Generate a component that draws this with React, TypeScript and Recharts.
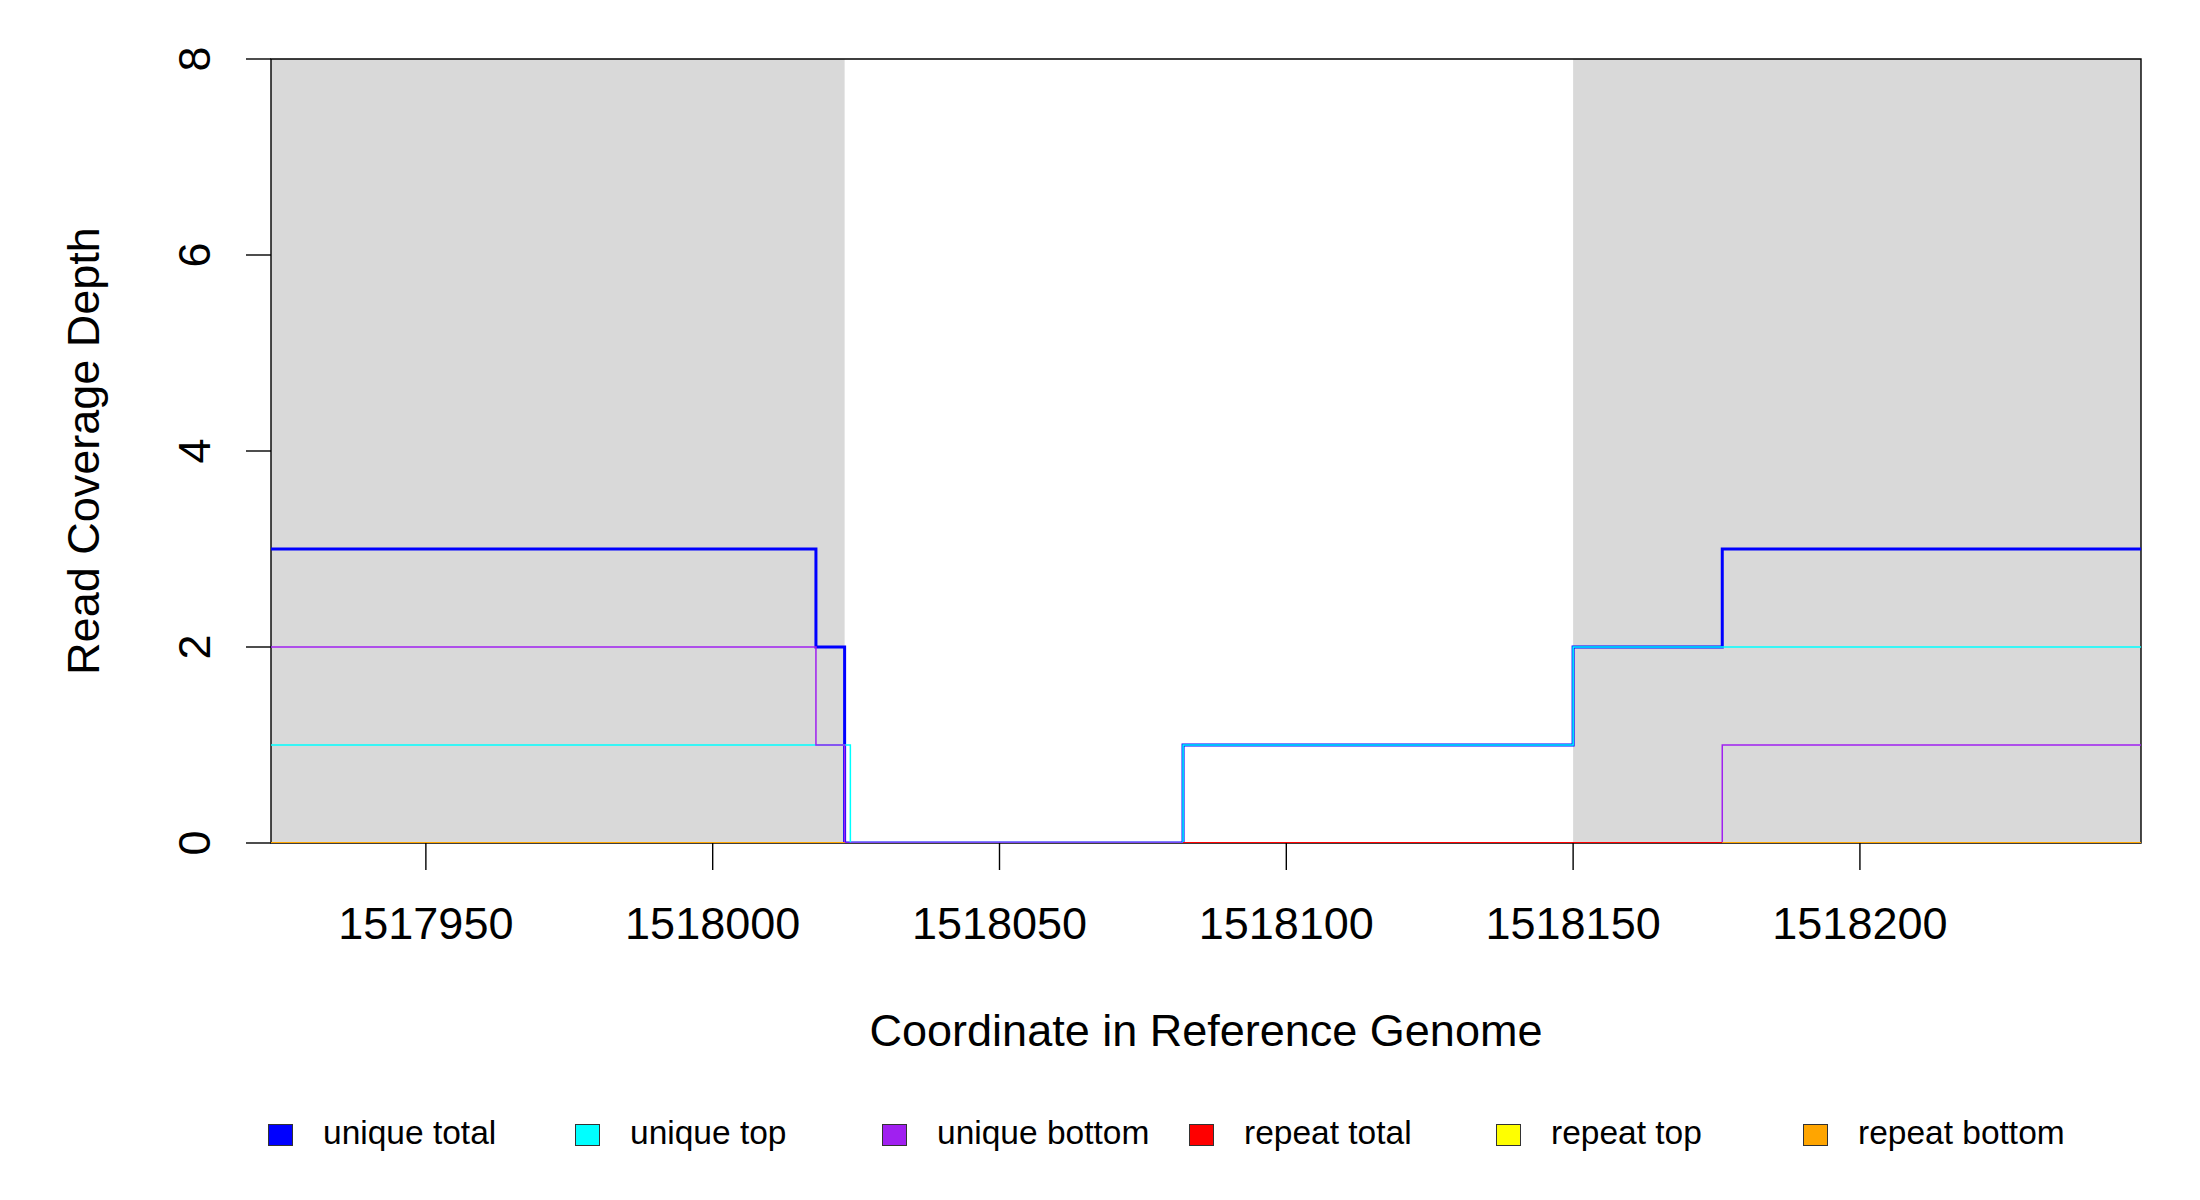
import React from 'react'
import {
  ComposedChart,
  Line,
  XAxis,
  YAxis,
  ReferenceArea,
  Legend,
} from 'recharts'

// genome positions where the coverage changes, and the depth from there on
const uniqueTotalPos = [1517923, 1518018, 1518023, 1518082, 1518150, 1518176, 1518249]
const uniqueTotalDepth = [3, 2, 0, 1, 2, 3, 3]

const uniqueTopPos = [1517923, 1518024, 1518082, 1518150, 1518249]
const uniqueTopDepth = [1, 0, 1, 2, 2]

const uniqueBottomPos = [1517923, 1518018, 1518023, 1518176, 1518249]
const uniqueBottomDepth = [2, 1, 0, 1, 1]

const repeatTotalPos = [1518082, 1518176]
const repeatTotalDepth = [0, 0]

const repeatTopPos = [1517923, 1518249]
const repeatTopDepth = [0, 0]

const repeatBottomPos = [1517923, 1518023, 1518100, 1518176, 1518249]
const repeatBottomDepth = [0, 0, null, 0, 0]

// grey boxes = flanking regions
const shadedRegions = [
  [1517923, 1518023],
  [1518150, 1518249],
]

const xDomain = [1517923, 1518249]
const xTicks = [1517950, 1518000, 1518050, 1518100, 1518150, 1518200]
const yDomain = [0, 8]
const yTicks = [0, 2, 4, 6, 8]

const legendNames = ['unique total', 'unique top', 'unique bottom', 'repeat total', 'repeat top', 'repeat bottom']
const legendColors = ['#0000FF', '#00FFFF', '#A020F0', '#FF0000', '#FFFF00', '#FFA500']

const toSeries = (pos: number[], depth: (number | null)[]) =>
  pos.map((x, i) => ({ x, depth: depth[i] }))

const FONT = '"Liberation Sans", Arial, Helvetica, sans-serif'

const XTick = ({ x, y, payload }: any) => (
  <text x={x} y={y + 67} textAnchor="middle" fontSize={45} fill="#000" fontFamily={FONT}>
    {payload.value}
  </text>
)

const YTick = ({ x, y, payload }: any) => (
  <text
    x={x - 34}
    y={y}
    transform={`rotate(-90, ${x - 34}, ${y})`}
    textAnchor="middle"
    fontSize={45}
    fill="#000"
    fontFamily={FONT}
  >
    {payload.value}
  </text>
)

const XTitle = ({ viewBox }: any) => {
  const cx = viewBox.x + viewBox.width / 2
  return (
    <text x={cx} y={viewBox.y + 203} textAnchor="middle" fontSize={45} fill="#000" fontFamily={FONT}>
      Coordinate in Reference Genome
    </text>
  )
}

const YTitle = ({ viewBox }: any) => {
  const cy = viewBox.y + viewBox.height / 2
  const tx = viewBox.x + 99
  return (
    <text
      x={tx}
      y={cy}
      transform={`rotate(-90, ${tx}, ${cy})`}
      textAnchor="middle"
      fontSize={45}
      fill="#000"
      fontFamily={FONT}
    >
      Read Coverage Depth
    </text>
  )
}

const CoverageLegend = () => (
  <div style={{ display: 'flex', height: 60, alignItems: 'center', paddingLeft: 268, fontFamily: FONT }}>
    {legendNames.map((name, i) => (
      <div key={name} style={{ width: 307, display: 'flex', alignItems: 'center' }}>
        <div
          style={{
            width: 23,
            height: 20,
            background: legendColors[i],
            border: '1.5px solid #333',
            marginTop: 4,
          }}
        />
        <span style={{ marginLeft: 30, fontSize: 33.5, color: '#000' }}>{name}</span>
      </div>
    ))}
  </div>
)

export default function App() {
  return (
    <div style={{ position: 'absolute', left: 0, top: 0, background: '#fff' }}>
      <ComposedChart
        width={2200}
        height={1200}
        margin={{ top: 59, right: 59, bottom: 37, left: 0 }}
      >
        <XAxis
          dataKey="x"
          type="number"
          domain={xDomain}
          ticks={xTicks}
          allowDataOverflow
          axisLine={false}
          tickSize={27}
          tickLine={{ stroke: '#000', strokeWidth: 1.4 }}
          tick={<XTick />}
          height={260}
          label={<XTitle />}
        />
        <YAxis
          type="number"
          domain={yDomain}
          ticks={yTicks}
          allowDataOverflow
          axisLine={false}
          tickSize={25}
          tickLine={{ stroke: '#000', strokeWidth: 1.4 }}
          tick={<YTick />}
          width={271}
          label={<YTitle />}
        />

        {shadedRegions.map(([a, b]) => (
          <ReferenceArea key={a} x1={a} x2={b} y1={yDomain[0]} y2={yDomain[1]} fill="#D9D9D9" fillOpacity={1} stroke="none" />
        ))}
        <ReferenceArea
          x1={xDomain[0]}
          x2={xDomain[1]}
          y1={yDomain[0]}
          y2={yDomain[1]}
          fill="none"
          stroke="#000"
          strokeWidth={1.4}
        />

        <Legend verticalAlign="bottom" content={<CoverageLegend />} />

        <Line data={toSeries(repeatTopPos, repeatTopDepth)} dataKey="depth" name="repeat top" type="stepAfter" stroke="#FFFF00" strokeWidth={2} dot={false} activeDot={false} isAnimationActive={false} />
        <Line data={toSeries(uniqueTotalPos, uniqueTotalDepth)} dataKey="depth" name="unique total" type="stepAfter" stroke="#0000FF" strokeWidth={3} dot={false} activeDot={false} isAnimationActive={false} />
        <Line data={toSeries(uniqueTopPos, uniqueTopDepth)} dataKey="depth" name="unique top" type="stepAfter" stroke="#00FFFF" strokeWidth={1.5} dot={false} activeDot={false} isAnimationActive={false} />
        <Line data={toSeries(uniqueBottomPos, uniqueBottomDepth)} dataKey="depth" name="unique bottom" type="stepAfter" stroke="#A020F0" strokeWidth={1.5} dot={false} activeDot={false} isAnimationActive={false} />
        <Line data={toSeries(repeatTotalPos, repeatTotalDepth)} dataKey="depth" name="repeat total" type="stepAfter" stroke="#FF0000" strokeWidth={2} dot={false} activeDot={false} isAnimationActive={false} />
        <Line data={toSeries(repeatBottomPos, repeatBottomDepth)} dataKey="depth" name="repeat bottom" type="stepAfter" stroke="#FFA500" strokeWidth={2} dot={false} activeDot={false} isAnimationActive={false} connectNulls={false} />
      </ComposedChart>
    </div>
  )
}
